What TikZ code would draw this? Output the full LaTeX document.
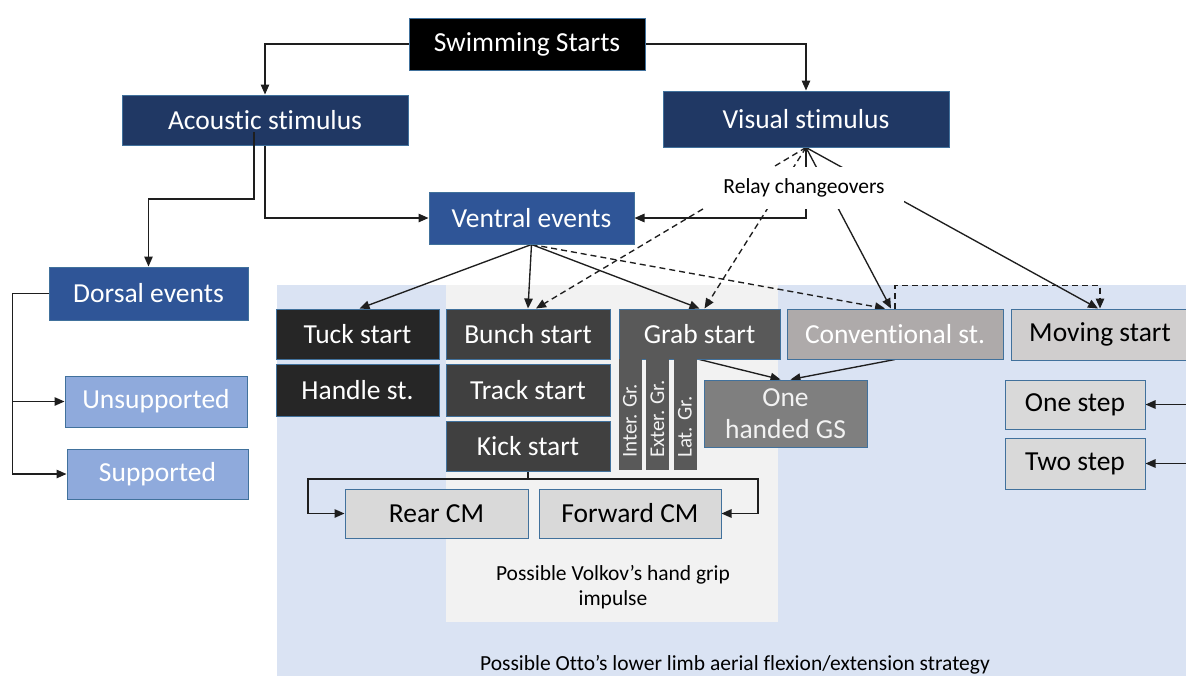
\documentclass[tikz,border=0pt]{standalone}
\usepackage{fontspec}
\setmainfont{Carlito}[Ligatures={NoCommon,NoRare}]
\usetikzlibrary{arrows.meta,calc}
\definecolor{boxline}{HTML}{41719C}
\definecolor{navy}{HTML}{203864}
\definecolor{midblue}{HTML}{2F5597}
\definecolor{lightblue}{HTML}{8FAADC}
\definecolor{bluebg}{HTML}{DAE3F3}
\definecolor{greybg}{HTML}{F2F2F2}
\definecolor{gA}{HTML}{262626}
\definecolor{gB}{HTML}{404040}
\definecolor{gC}{HTML}{595959}
\definecolor{gD}{HTML}{7F7F7F}
\definecolor{gE}{HTML}{AEAAAA}
\definecolor{gF}{HTML}{D0CECE}
\definecolor{gG}{HTML}{D9D9D9}
\definecolor{linec}{HTML}{1E1E1E}
\pgfdeclarelayer{background}
\pgfdeclarelayer{edges}
\pgfsetlayers{background,edges,main}
\begin{document}
\begin{tikzpicture}[x=1pt,y=-1pt,
  box/.style={draw=boxline, line width=1pt, inner sep=0pt, text=white,
    font=\fontsize{27.5}{32}\selectfont, align=center},
  darkt/.style={text=black},
  arr/.style={draw=linec, line width=1.35pt, -{Triangle[length=10pt,width=8.5pt]}},
  dsh/.style={dash pattern=on 6pt off 4pt},
  strip/.style={fill=gC, inner sep=0pt, minimum width=23pt, minimum height=111pt},
  striptext/.style={rotate=90, anchor=west, inner sep=0pt, text=greybg,
    font=\fontsize{21}{22}\selectfont},
  note/.style={text=black, font=\fontsize{21.5}{25}\selectfont, align=center, inner sep=0pt}
]
\useasboundingbox (0,0) rectangle (1186,675);
\begin{pgfonlayer}{background}
  \fill[bluebg] (277,285) rectangle (1192,680);
  \fill[greybg] (446,285) rectangle (778,622);
\end{pgfonlayer}

% top levels
\node[box, fill=black, minimum width=236pt, minimum height=52pt] (swim) at (527,44) {Swimming Starts};
\node[box, fill=navy, minimum width=286pt, minimum height=50pt] (acoustic) at (265,120) {Acoustic stimulus};
\node[box, fill=navy, minimum width=286pt, minimum height=56pt] (visual) at (806,119) {Visual stimulus};
\node[box, fill=midblue, minimum width=205pt, minimum height=52pt] (ventral) at (531.5,218) {Ventral events};
\node[box, fill=midblue, minimum width=199pt, minimum height=53pt] (dorsal) at (148.5,293.5) {Dorsal events};
\node[box, fill=lightblue, minimum width=182pt, minimum height=51pt] (unsup) at (156,401.5) {Unsupported};
\node[box, fill=lightblue, minimum width=181pt, minimum height=50pt] (sup) at (157.5,474) {Supported};

% start types
\node[box, fill=gA, minimum width=163pt, minimum height=50pt] (tuck) at (357.5,334) {Tuck start};
\node[box, fill=gA, minimum width=163pt, minimum height=52pt] (handle) at (357.5,390) {Handle st.};
\node[box, fill=gB, minimum width=164pt, minimum height=50pt] (bunch) at (528,334) {Bunch start};
\node[box, fill=gB, minimum width=164pt, minimum height=52pt] (track) at (528,390) {Track start};
\node[box, fill=gB, minimum width=164pt, minimum height=50pt] (kick) at (528,446) {Kick start};
\node[box, fill=gC, minimum width=161pt, minimum height=50pt] (grab) at (699.5,334) {Grab start};
\node[strip] (sI) at (630,414.5) {};
\node[strip] (sE) at (657.5,414.5) {};
\node[strip] (sL) at (685,414.5) {};
\node[striptext] (tI) at (sI.south |- 0,458) {Inter. Gr.};
\node[striptext] (tE) at (sE.south |- 0,458) {Exter. Gr.};
\node[striptext] (tL) at (sL.south |- 0,458) {Lat. Gr.};
\node[box, fill=gD, minimum width=163pt, minimum height=67pt, text=greybg] (onehanded) at (785.5,413.5) {One\\handed GS};
\node[box, fill=gE, minimum width=216pt, minimum height=50pt] (conv) at (895,334) {Conventional st.};
\node[box, fill=gF, darkt, minimum width=178pt, minimum height=51pt] (moving) at (1100,334.5) {Moving start};
\node[box, fill=gG, darkt, minimum width=140pt, minimum height=49pt] (onestep) at (1075,404.5) {One step};
\node[box, fill=gG, darkt, minimum width=140pt, minimum height=51pt] (twostep) at (1075,463.5) {Two step};
\node[box, fill=gG, darkt, minimum width=183pt, minimum height=49pt] (rear) at (436.5,513.5) {Rear CM};
\node[box, fill=gG, darkt, minimum width=182pt, minimum height=49pt] (forward) at (630,513.5) {Forward CM};

% notes
\node[note, fill=white, minimum width=200pt, minimum height=42pt] (relay) at (804,188) {Relay changeovers};
\node[note] (volkov) at (613,587) {Possible Volkov’s hand grip\\impulse};
\node[note] (otto) at (735,665) {Possible Otto’s lower limb aerial flexion/extension strategy};

% helper coordinates
\coordinate (aD) at (254,132);
\coordinate (aDk) at (254,199);
\coordinate (kL) at (308,479);
\coordinate (kR) at (758,479);
\coordinate (rs1) at (1192,404.5);
\coordinate (rs2) at (1192,463.5);

\begin{pgfonlayer}{edges}
  \draw[arr] (swim.west) -| (acoustic.north);
  \draw[arr] (swim.east) -| (visual.north);
  \draw[arr] (acoustic.south) |- (ventral.west);
  \draw[arr] (dorsal.west) -- ++(-36,0) |- (unsup.west);
  \draw[arr] (dorsal.west) -- ++(-36,0) |- (sup.west);
  \draw[arr] (visual.south) |- (ventral.east);
  \draw[arr,dsh] (visual.south) -- ([xshift=8pt]bunch.north);
  \draw[arr,dsh] (visual.south) -- ([xshift=5pt]grab.north);
  \draw[arr] (visual.south) -- ([xshift=-4pt]conv.north);
  \draw[arr] (visual.south) -- ([xshift=-2pt]moving.north);
  \draw[arr] (ventral.south) -- ([xshift=2pt]tuck.north);
  \draw[arr] (ventral.south) -- (bunch.north);
  \draw[arr] (ventral.south) -- (grab.north);
  \draw[arr,dsh] (ventral.south) -- ([xshift=-10pt]conv.north);
  \draw[arr,dsh] (conv.north) -- ++(0,-23) -| (moving.north);
  \draw[arr] (grab.south) -- ([xshift=-5pt]onehanded.north);
  \draw[arr] (conv.south) -- ([xshift=5pt]onehanded.north);
  \draw[arr] (kick.south) |- (kL) |- (rear.west);
  \draw[arr] (kick.south) |- (kR) |- (forward.east);
  \draw[arr] (rs1) -- (onestep.east);
  \draw[arr] (rs2) -- (twostep.east);
\end{pgfonlayer}
\draw[arr] (aD) -- (aDk) -| (dorsal.north);
\end{tikzpicture}
\end{document}
